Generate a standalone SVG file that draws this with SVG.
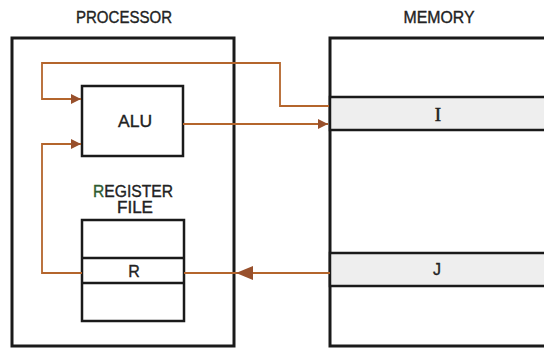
<svg xmlns="http://www.w3.org/2000/svg" width="544" height="349" viewBox="0 0 544 349">
<defs>
<style>
.box{fill:none;stroke:#1a1a1a;stroke-width:3}
.cell{fill:#fff;stroke:#1a1a1a;stroke-width:2.5}
.shade{fill:#eeeeee;stroke:#1a1a1a;stroke-width:2.5}
.wire{fill:none;stroke:#b4652c;stroke-width:1.8}
.lbl{font-family:"Liberation Sans",Arial,sans-serif;font-size:16px;fill:#222;stroke:#222;stroke-width:0.35;text-anchor:middle}
</style>
<marker id="ah" viewBox="0 0 10 10" refX="10" refY="5" markerWidth="14" markerHeight="10" markerUnits="userSpaceOnUse" orient="auto">
<path d="M0,0 L10,5 L0,10 Z" fill="#98502c"/>
</marker>
</defs>
<rect width="544" height="349" fill="#fff"/>
<g id="processor">
<rect class="box" x="12" y="38" width="222" height="308"/>
<text class="lbl" x="124" y="23" textLength="96" lengthAdjust="spacingAndGlyphs">PROCESSOR</text>
</g>
<g id="memory">
<rect class="box" x="330" y="38" width="230" height="308"/>
<rect class="shade" x="330" y="97" width="230" height="33"/>
<rect class="shade" x="330" y="253" width="230" height="33"/>
<text class="lbl" x="439" y="23" textLength="71" lengthAdjust="spacingAndGlyphs">MEMORY</text>
<text x="438" y="121" font-family="Liberation Serif,serif" font-size="19" fill="#222" stroke="#222" stroke-width="0.5" text-anchor="middle">I</text>
<text class="lbl" x="437" y="275" font-size="15">J</text>
</g>
<g id="alu">
<rect class="cell" x="82" y="86" width="101" height="70"/>
<text class="lbl" x="135" y="127" textLength="34" lengthAdjust="spacingAndGlyphs">ALU</text>
</g>
<g id="regfile">
<text class="lbl" x="133" y="197" textLength="80" lengthAdjust="spacingAndGlyphs"><tspan fill="#2e5a30" stroke="#2e5a30">R</tspan>EGISTER</text>
<text class="lbl" x="135" y="213" textLength="36" lengthAdjust="spacingAndGlyphs">FILE</text>
<rect class="cell" x="82" y="220" width="102" height="101"/>
<line x1="82" y1="258" x2="184" y2="258" stroke="#1a1a1a" stroke-width="2.5"/>
<line x1="82" y1="283" x2="184" y2="283" stroke="#1a1a1a" stroke-width="2.5"/>
<text class="lbl" x="134" y="277">R</text>
</g>
<g id="connectors">
<path class="wire" d="M329,106 H280 V63 H42 V99 H81" marker-end="url(#ah)"/>
<path class="wire" d="M82,273 H42 V144 H81" marker-end="url(#ah)"/>
<path class="wire" d="M183,124 H328" marker-end="url(#ah)"/>
<path class="wire" d="M330,273 H184"/>
<path d="M253,266 L236,273 L253,280 Z" fill="#98502c"/>
</g>
</svg>
